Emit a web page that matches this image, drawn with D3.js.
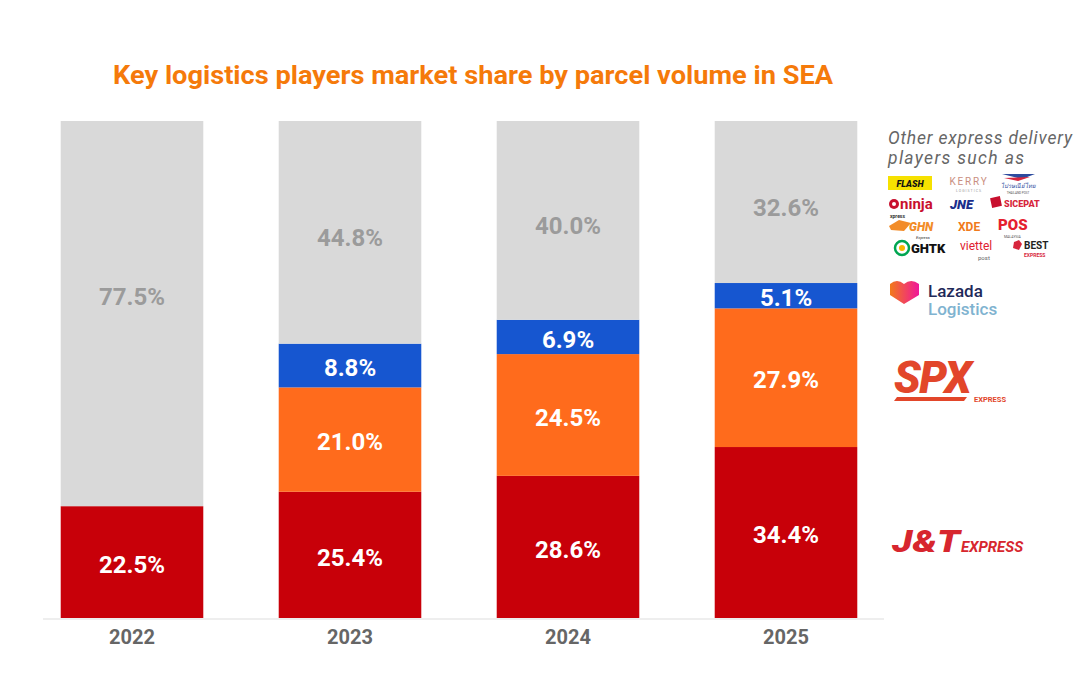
<!DOCTYPE html>
<html>
<head>
<meta charset="utf-8">
<script src="https://cdn.jsdelivr.net/npm/d3@7"></script>
<style>
  html, body { margin: 0; padding: 0; background: #ffffff; }
  svg { display: block; font-family: Roboto, "Noto Sans", sans-serif; }
</style>
</head>
<body>
<svg id="chart" width="1080" height="680"></svg>
<script>
// ---- data ----
const years = ["2022", "2023", "2024", "2025"];
const seriesNames = ["J&T Express", "SPX Express", "Lazada Logistics", "Others"];
const jtValues = [22.5, 25.4, 28.6, 34.4];
const spxValues = [0, 21.0, 24.5, 27.9];
const lazadaValues = [0, 8.8, 6.9, 5.1];
const otherValues = [77.5, 44.8, 40.0, 32.6];
const seriesColors = ["#C80009", "#FF6B1C", "#1656D0", "#D9D9D9"];
const labelColors = ["#FFFFFF", "#FFFFFF", "#FFFFFF", "#9B9B9B"];
const titleText = "Key logistics players market share by parcel volume in SEA";
const otherPlayers = [["FLASH", "KERRY", "Thailand Post"], ["ninja xpress", "JNE", "SICEPAT"], ["GHN", "XDE", "POS"], ["GHTK", "viettel", "BEST EXPRESS"]];

// ---- build table ----
const rows = years.map((y, i) => ({
  year: y, jt: jtValues[i], spx: spxValues[i], lazada: lazadaValues[i], other: otherValues[i]
}));
const keys = ["jt", "spx", "lazada", "other"];
const stack = d3.stack().keys(keys)(rows);

const svg = d3.select("#chart");

const x = d3.scaleBand().domain(years).range([23, 895]).paddingInner(0.346).paddingOuter(0.173);
const y = d3.scaleLinear().domain([0, 100]).range([618, 121]);

// title
svg.append("text")
  .attr("x", 473).attr("y", 84)
  .attr("text-anchor", "middle")
  .attr("font-size", 26).attr("font-weight", 700)
  .attr("fill", "#F57A0A")
  .attr("textLength", 720).attr("lengthAdjust", "spacingAndGlyphs")
  .text(titleText);

// bars
const layers = svg.append("g").selectAll("g").data(stack).join("g")
  .attr("fill", (d, i) => seriesColors[i]);

layers.selectAll("rect").data(d => d.filter(s => s[1] - s[0] > 0)).join("rect")
  .attr("x", d => x(d.data.year))
  .attr("width", x.bandwidth())
  .attr("y", d => y(d[1]))
  .attr("height", d => y(d[0]) - y(d[1]));

// value labels
stack.forEach((layer, li) => {
  svg.append("g").selectAll("text").data(layer.filter(s => s[1] - s[0] > 0)).join("text")
    .attr("x", d => x(d.data.year) + x.bandwidth() / 2)
    .attr("y", d => {
      let c = (y(d[0]) + y(d[1])) / 2 + 2;
      if (li === 3) c = Math.min(c + 3, y(d[1]) + 175);
      return c;
    })
    .attr("dy", "0.36em")
    .attr("text-anchor", "middle")
    .attr("font-size", 24).attr("font-weight", 700)
    .attr("fill", labelColors[li])
    .text(d => (d[1] - d[0]).toFixed(1) + "%");
});

// x axis
const axis = svg.append("g").attr("transform", "translate(0,619)")
  .call(d3.axisBottom(x).tickSize(0).tickPadding(11));
axis.select(".domain").remove();
axis.append("line").attr("x1", 43).attr("x2", 884).attr("y1", 0).attr("y2", 0)
  .attr("stroke", "#DDDDDD").attr("stroke-width", 1.2);
axis.selectAll(".tick text")
  .attr("font-size", 20).attr("font-weight", 700)
  .attr("fill", "#666666").attr("font-family", "Roboto, sans-serif");

// ---- legend (logos as text) ----
const lg = svg.append("g");
lg.append("text").attr("x", 888).attr("y", 144)
  .attr("font-size", 17.5).attr("font-style", "italic").attr("fill", "#666")
  .attr("textLength", 184).attr("lengthAdjust", "spacing")
  .text("Other express delivery");
lg.append("text").attr("x", 888).attr("y", 164)
  .attr("font-size", 17.5).attr("font-style", "italic").attr("fill", "#666")
  .attr("textLength", 136).attr("lengthAdjust", "spacing")
  .text("players such as");

// row 1
lg.append("rect").attr("x", 888).attr("y", 176).attr("width", 44).attr("height", 14).attr("fill", "#F6E100");
lg.append("text").attr("x", 910).attr("y", 187).attr("text-anchor", "middle")
  .attr("font-size", 9).attr("font-weight", 900).attr("font-style", "italic").attr("fill", "#111").text(otherPlayers[0][0]);
lg.append("text").attr("x", 969).attr("y", 185).attr("text-anchor", "middle")
  .attr("font-size", 10).attr("letter-spacing", 1.8).attr("fill", "#C98E80").text(otherPlayers[0][1]);
lg.append("text").attr("x", 969).attr("y", 192).attr("text-anchor", "middle")
  .attr("font-size", 3.5).attr("letter-spacing", 1).attr("fill", "#999").text("LOGISTICS");
lg.append("path").attr("d", "M1002,174 L1035,174 L1022,179 Z").attr("fill", "#2C4A9E");
lg.append("path").attr("d", "M1004,178 L1030,177 L1018,181 Z").attr("fill", "#D7263D");
lg.append("text").attr("x", 1018).attr("y", 188).attr("text-anchor", "middle")
  .attr("font-size", 6).attr("font-style", "italic").attr("fill", "#2C4A9E").text("ไปรษณีย์ไทย");
lg.append("text").attr("x", 1018).attr("y", 194).attr("text-anchor", "middle")
  .attr("font-size", 3).attr("fill", "#555").text("THAILAND POST");

// row 2
lg.append("circle").attr("cx", 894).attr("cy", 204).attr("r", 5).attr("fill", "#C8102E");
lg.append("circle").attr("cx", 894).attr("cy", 204).attr("r", 2).attr("fill", "#fff");
lg.append("text").attr("x", 900).attr("y", 209)
  .attr("font-size", 15).attr("font-weight", 700).attr("fill", "#C8102E").text("ninja");
lg.append("text").attr("x", 890).attr("y", 218)
  .attr("font-size", 5).attr("font-weight", 700).attr("fill", "#333").text("xpress");
lg.append("text").attr("x", 950).attr("y", 209)
  .attr("font-size", 13).attr("font-weight", 900).attr("font-style", "italic").attr("fill", "#1B2E8C").text("JNE");
lg.append("rect").attr("x", 991).attr("y", 197).attr("width", 10).attr("height", 10).attr("fill", "#C8102E")
  .attr("transform", "rotate(-12,996,202)");
lg.append("text").attr("x", 1004).attr("y", 207)
  .attr("font-size", 9).attr("font-weight", 900).attr("fill", "#D7263D").text("SICEPAT");

// row 3
lg.append("path").attr("d", "M889,226 L899,220 L911,223 L904,231 L891,230 Z").attr("fill", "#F28C28");
lg.append("text").attr("x", 909).attr("y", 231)
  .attr("font-size", 12).attr("font-weight", 900).attr("font-style", "italic").attr("fill", "#F28C28").text("GHN");
lg.append("text").attr("x", 916).attr("y", 239).attr("font-size", 4).attr("font-style", "italic").attr("fill", "#333").text("Express");
lg.append("text").attr("x", 958).attr("y", 231)
  .attr("font-size", 12).attr("font-weight", 700).attr("fill", "#F07A1C").text("XDE");
lg.append("text").attr("x", 998).attr("y", 230)
  .attr("font-size", 15).attr("font-weight", 900).attr("fill", "#E5202E").text("POS");
lg.append("text").attr("x", 1004).attr("y", 238).attr("font-size", 3.5).attr("fill", "#555").text("MALAYSIA");

// row 4
lg.append("circle").attr("cx", 902).attr("cy", 248).attr("r", 7).attr("fill", "none").attr("stroke", "#00A651").attr("stroke-width", 2.5);
lg.append("circle").attr("cx", 902).attr("cy", 248).attr("r", 3).attr("fill", "#F7B500");
lg.append("text").attr("x", 911).attr("y", 253)
  .attr("font-size", 13).attr("font-weight", 900).attr("fill", "#111").text("GHTK");
lg.append("text").attr("x", 960).attr("y", 250)
  .attr("font-size", 12).attr("fill", "#E0202E").text("viettel");
lg.append("text").attr("x", 978).attr("y", 260).attr("font-size", 6).attr("fill", "#666").text("post");
lg.append("path").attr("d", "M1014,242 L1019,240 L1022,244 L1019,250 L1013,248 Z").attr("fill", "#D7263D");
lg.append("text").attr("x", 1024).attr("y", 249)
  .attr("font-size", 10).attr("font-weight", 700).attr("fill", "#222").text("BEST");
lg.append("text").attr("x", 1024).attr("y", 257)
  .attr("font-size", 5).attr("font-weight", 700).attr("fill", "#D7263D").text("EXPRESS");

// Lazada logistics
const grad = svg.append("defs").append("linearGradient").attr("id", "lzgrad")
  .attr("x1", "0").attr("y1", "0").attr("x2", "1").attr("y2", "0");
grad.append("stop").attr("offset", "0").attr("stop-color", "#F27A1A");
grad.append("stop").attr("offset", "1").attr("stop-color", "#F0169A");
lg.append("path").attr("d", "M890,284 Q897,278 904,284 Q911,278 919,284 L919,295 L904,304 L890,295 Z").attr("fill", "url(#lzgrad)");
lg.append("text").attr("x", 928).attr("y", 297)
  .attr("font-size", 17).attr("font-weight", 500).attr("fill", "#1F2A5A").text("Lazada");
lg.append("text").attr("x", 928).attr("y", 315)
  .attr("font-size", 17).attr("font-weight", 500).attr("fill", "#7FB3D0").text("Logistics");

// SPX
lg.append("text").attr("x", 894).attr("y", 393)
  .attr("font-size", 44).attr("font-weight", 900).attr("font-style", "italic")
  .attr("letter-spacing", -1.5).attr("fill", "#E2462A").text("SPX");
lg.append("path").attr("d", "M894,401 L964,401 L967,397 L897,397 Z").attr("fill", "#E2462A");
lg.append("text").attr("x", 974).attr("y", 402)
  .attr("font-size", 7.5).attr("font-weight", 700).attr("fill", "#E2462A").text("EXPRESS");

// J&T
lg.append("text").attr("x", 892).attr("y", 552)
  .attr("font-size", 31).attr("font-weight", 900).attr("font-style", "italic")
  .attr("textLength", 68).attr("lengthAdjust", "spacingAndGlyphs")
  .attr("fill", "#D7262E").text("J&T");
lg.append("text").attr("x", 961).attr("y", 552)
  .attr("font-size", 15).attr("font-weight", 700).attr("font-style", "italic").attr("fill", "#D7262E").text("EXPRESS");
</script>
</body>
</html>
